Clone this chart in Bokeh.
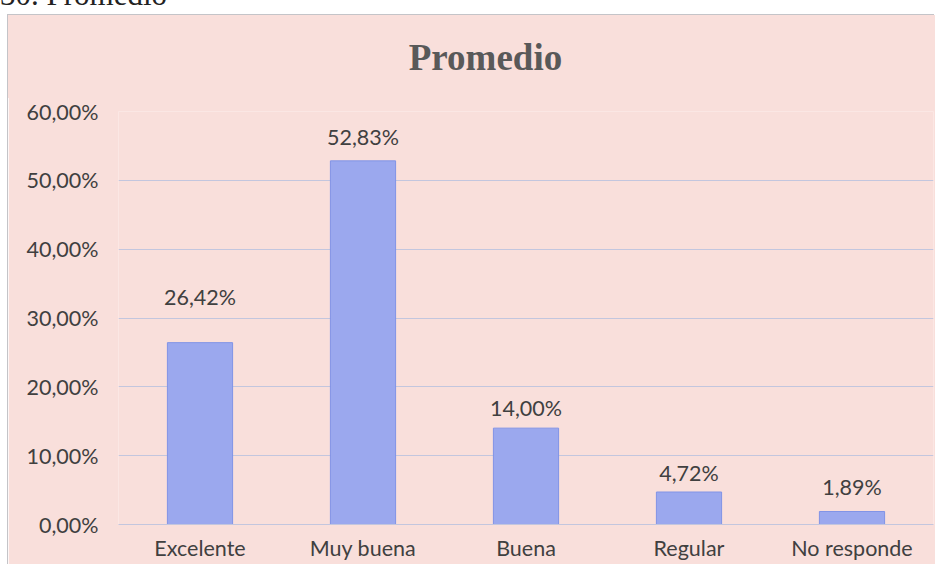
from bokeh.plotting import figure
from bokeh.models import ColumnDataSource, FactorRange, Range1d, FixedTicker, Div
from bokeh.layouts import column
from bokeh.embed import file_html
from bokeh.resources import INLINE
from bokeh.core.properties import value

# ---- data ----
categories = ["Excelente", "Muy buena", "Buena", "Regular", "No responde"]
percentages = [26.42, 52.83, 14.00, 4.72, 1.89]
y_ticks = [0, 10, 20, 30, 40, 50, 60]
y_tick_labels = ["0,00%", "10,00%", "20,00%", "30,00%", "40,00%", "50,00%", "60,00%"]
chart_title = "Promedio"
caption = "30. Promedio"

# ---- style ----
label_lift_px = [46, 24, 20, 19, 24]
BG = "#F9DFDB"
BAR = "#9BA8EE"
BAR_LINE = "#8193E6"
GRID = "#C3C6DE"
TXT = "#404040"
FONT = "Lato"
FS = "21.5px"
EDGE = "#c4c4c8"

value_labels = [f"{v:.2f}%".replace(".", ",") for v in percentages]
src = ColumnDataSource(dict(cat=categories, val=percentages, lab=value_labels,
                            off=[-o for o in label_lift_px]))

p = figure(x_range=FactorRange(*categories), y_range=Range1d(0, 60),
           width=927, height=468, output_backend="svg", toolbar_location=None,
           min_border_left=110, min_border_right=2, min_border_top=15,
           min_border_bottom=40,
           styles={"margin-left": "8px", "box-shadow": f"-1px 0 0 {EDGE}"})
p.background_fill_color = BG
p.border_fill_color = BG
p.outline_line_color = None

p.vbar(x="cat", top="val", width=0.4, source=src, fill_color=BAR,
       line_color=BAR_LINE, line_width=1)
p.text(x="cat", y="val", text="lab", source=src, y_offset="off",
       text_align="center", text_baseline="middle", text_font=value(FONT),
       text_font_size=FS, text_color=TXT)

p.yaxis.ticker = FixedTicker(ticks=y_ticks)
p.yaxis.major_label_overrides = {t: l for t, l in zip(y_ticks, y_tick_labels)}
p.yaxis.axis_line_color = None
p.yaxis.major_tick_line_color = None
p.yaxis.minor_tick_line_color = None
p.yaxis.major_tick_out = 0
p.yaxis.minor_tick_out = 0
p.yaxis.major_label_standoff = 20
p.yaxis.major_label_text_font = FONT
p.yaxis.major_label_text_font_size = FS
p.yaxis.major_label_text_color = TXT

p.xaxis.axis_line_color = GRID
p.xaxis.major_tick_line_color = None
p.xaxis.minor_tick_line_color = None
p.xaxis.major_tick_out = 0
p.xaxis.minor_tick_out = 0
p.xaxis.major_label_standoff = 10
p.xaxis.major_label_text_font = FONT
p.xaxis.major_label_text_font_size = FS
p.xaxis.major_label_text_color = TXT

p.xgrid.grid_line_color = None
p.ygrid.grid_line_color = GRID
p.ygrid.grid_line_width = 1

header_html = (
    '<div style="height:15px; overflow:hidden;">'
    '<div style="font-family:\'Liberation Serif\',serif; font-size:31px; '
    'line-height:31px; margin-top:-21px; white-space:nowrap; color:#222;">'
    f'{caption}</div></div>'
    f'<div style="position:relative; margin-left:8px; width:927px; height:83px; '
    f'background:{BG}; box-shadow:-1px -1px 0 {EDGE};">'
    '<div style="position:absolute; left:0; width:955px; top:24px; text-align:center; '
    'font-family:\'Liberation Serif\',serif; font-weight:bold; font-size:37px; '
    f'line-height:37px; white-space:nowrap; color:#595959;">{chart_title}</div></div>'
)
header = Div(text=header_html, width=935, height=96, margin=0,
             styles={"overflow": "visible"})

layout = column(header, p, spacing=0)
open("out.html", "w").write(file_html(layout, INLINE))
